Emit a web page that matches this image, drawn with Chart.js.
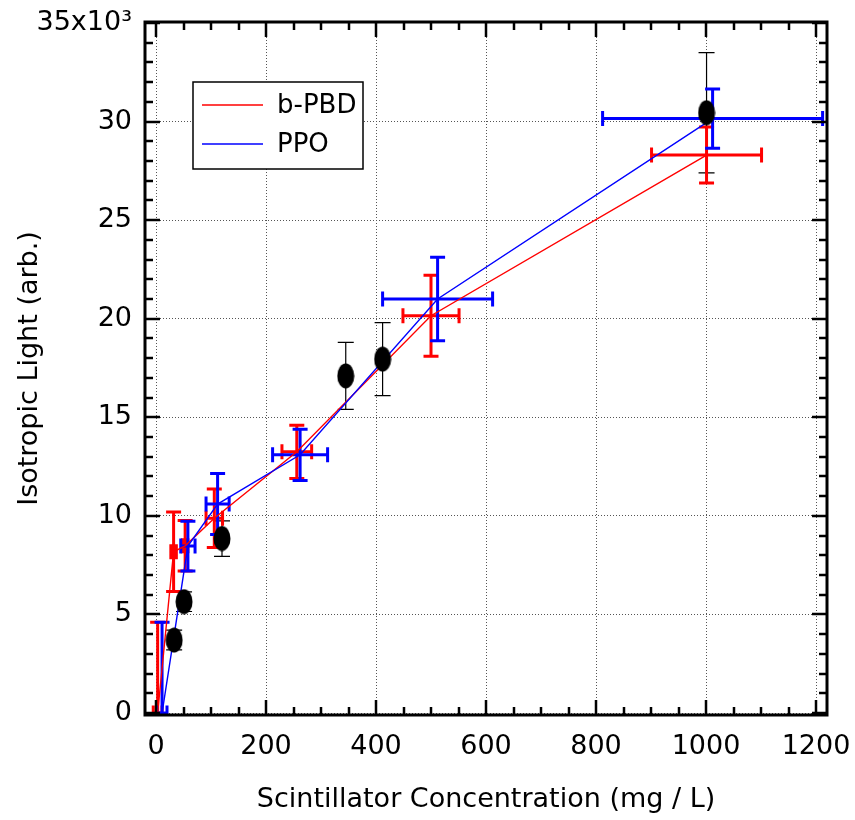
<!DOCTYPE html>
<html>
<head>
<meta charset="utf-8">
<title>Isotropic Light vs Scintillator Concentration</title>
<script src="https://cdn.jsdelivr.net/npm/chart.js@4.4.0/dist/chart.umd.min.js"></script>
<style>
  html, body { margin: 0; padding: 0; background: #fff; }
</style>
</head>
<body>
<canvas id="lightChart" width="855" height="820"></canvas>
<script>
// b-PBD (red)
const pbdConc     = [3, 32, 53, 106, 256, 500, 1001];
const pbdConcErr  = [8, 5, 5, 15, 27, 51, 100];
const pbdLight    = [0, 8180, 8480, 9880, 13250, 20150, 28300];
const pbdLightErr = [4600, 2020, 1280, 1480, 1350, 2050, 1420];

// PPO (blue)
const ppoConc     = [11, 58, 112, 262, 512, 1012];
const ppoConcErr  = [9, 13, 21, 50, 100, 200];
const ppoLight    = [0, 8470, 10600, 13100, 21000, 30150];
const ppoLightErr = [4600, 1260, 1550, 1300, 2120, 1500];

// measured points (black ellipses)
const measConc     = [33, 51, 120, 345, 412, 1001];
const measLight    = [3700, 5650, 8850, 17100, 17950, 30450];
const measLightErr = [500, 500, 900, 1700, 1850, 3050];

const xTicks = [0, 200, 400, 600, 800, 1000, 1200];
const yTicks = [0, 5000, 10000, 15000, 20000, 25000, 30000, 35000];
const xMinorStep = 50;
const yMinorStep = 1000;

const FONT = "'DejaVu Sans', 'Liberation Sans', sans-serif";

function toPoints(xs, ys) {
    return xs.map((v, i) => ({ x: v, y: ys[i] }));
}

// black ellipse marker
function ellipseMarker(w, h) {
    const c = document.createElement("canvas");
    c.width = w; c.height = h;
    const g = c.getContext("2d");
    g.fillStyle = "#000";
    g.beginPath();
    g.ellipse(w / 2, h / 2, w / 2 - 0.5, h / 2 - 0.5, 0, 0, Math.PI * 2);
    g.fill();
    return c;
}

// error bars, drawn under the datasets
const errorBars = {
    id: "errorBars",
    beforeDatasetsDraw(chart) {
        const { ctx, chartArea: a, scales: { x, y } } = chart;
        ctx.save();
        ctx.beginPath();
        ctx.rect(a.left, a.top, a.right - a.left, a.bottom - a.top);
        ctx.clip();
        chart.data.datasets.forEach(ds => {
            const eb = ds.errorBars;
            if (!eb) return;
            ctx.strokeStyle = eb.color;
            ctx.lineWidth = eb.width;
            ctx.lineCap = "butt";
            const cap = eb.cap;
            ds.data.forEach((p, i) => {
                const px = x.getPixelForValue(p.x);
                const py = y.getPixelForValue(p.y);
                ctx.beginPath();
                if (eb.yErr) {
                    const t = y.getPixelForValue(p.y + eb.yErr[i]);
                    const b = y.getPixelForValue(p.y - eb.yErr[i]);
                    ctx.moveTo(px, t); ctx.lineTo(px, b);
                    ctx.moveTo(px - cap, t); ctx.lineTo(px + cap, t);
                    ctx.moveTo(px - cap, b); ctx.lineTo(px + cap, b);
                }
                if (eb.xErr) {
                    const l = x.getPixelForValue(p.x - eb.xErr[i]);
                    const r = x.getPixelForValue(p.x + eb.xErr[i]);
                    ctx.moveTo(l, py); ctx.lineTo(r, py);
                    ctx.moveTo(l, py - cap); ctx.lineTo(l, py + cap);
                    ctx.moveTo(r, py - cap); ctx.lineTo(r, py + cap);
                }
                ctx.stroke();
            });
        });
        ctx.restore();
    }
};

// thick frame with inward ticks on all four sides
const frameTicks = {
    id: "frameTicks",
    afterDraw(chart) {
        const { ctx, chartArea: a, scales: { x, y } } = chart;
        ctx.save();
        ctx.strokeStyle = "#000";
        ctx.lineWidth = 2.5;
        for (let v = 0; v <= x.max; v += xMinorStep) {
            const px = Math.round(x.getPixelForValue(v));
            const len = v % 200 === 0 ? 15 : 8;
            ctx.beginPath();
            ctx.moveTo(px, a.bottom); ctx.lineTo(px, a.bottom - len);
            ctx.moveTo(px, a.top); ctx.lineTo(px, a.top + len);
            ctx.stroke();
        }
        for (let v = 0; v <= y.max; v += yMinorStep) {
            const py = Math.round(y.getPixelForValue(v));
            const len = v % 5000 === 0 ? 15 : 8;
            ctx.beginPath();
            ctx.moveTo(a.left, py); ctx.lineTo(a.left + len, py);
            ctx.moveTo(a.right, py); ctx.lineTo(a.right - len, py);
            ctx.stroke();
        }
        ctx.lineWidth = 3;
        ctx.strokeRect(a.left, a.top, a.right - a.left, a.bottom - a.top);
        ctx.restore();
    }
};

// boxed legend inside the plot
const boxLegend = {
    id: "boxLegend",
    afterDraw(chart) {
        const { ctx } = chart;
        const items = chart.data.datasets.filter(ds => ds.inLegend);
        const bx = 193, by = 82, bw = 170, bh = 87;
        ctx.save();
        ctx.fillStyle = "#fff";
        ctx.fillRect(bx, by, bw, bh);
        ctx.strokeStyle = "#000";
        ctx.lineWidth = 1.5;
        ctx.strokeRect(bx, by, bw, bh);
        ctx.font = "26px " + FONT;
        ctx.textBaseline = "middle";
        items.forEach((ds, i) => {
            const ly = by + 23 + i * 39;
            ctx.strokeStyle = ds.borderColor;
            ctx.lineWidth = 1.3;
            ctx.beginPath();
            ctx.moveTo(bx + 9, ly); ctx.lineTo(bx + 70, ly);
            ctx.stroke();
            ctx.fillStyle = "#000";
            ctx.fillText(ds.label, bx + 84, ly + 1);
        });
        ctx.restore();
    }
};

Chart.defaults.font.family = FONT;
Chart.defaults.font.size = 27;
Chart.defaults.color = "#000";

new Chart(document.getElementById("lightChart"), {
    type: "scatter",
    data: {
        datasets: [
            {
                label: "measured",
                data: toPoints(measConc, measLight),
                pointStyle: ellipseMarker(18, 26),
                showLine: false,
                order: 0,
                errorBars: { yErr: measLightErr, color: "#000", width: 1.2, cap: 8 }
            },
            {
                label: "b-PBD",
                inLegend: true,
                data: toPoints(pbdConc, pbdLight),
                showLine: true,
                borderColor: "#ff0000",
                borderWidth: 1.4,
                pointRadius: 0,
                order: 2,
                errorBars: { yErr: pbdLightErr, xErr: pbdConcErr, color: "#ff0000", width: 3, cap: 7.5 }
            },
            {
                label: "PPO",
                inLegend: true,
                data: toPoints(ppoConc, ppoLight),
                showLine: true,
                borderColor: "#0000ff",
                borderWidth: 1.4,
                pointRadius: 0,
                order: 1,
                errorBars: { yErr: ppoLightErr, xErr: ppoConcErr, color: "#0000ff", width: 3, cap: 7.5 }
            }
        ]
    },
    options: {
        responsive: false,
        animation: false,
        events: [],
        layout: { padding: { top: 22, right: 28, left: 0, bottom: 0 } },
        plugins: {
            legend: { display: false },
            tooltip: { enabled: false }
        },
        scales: {
            x: {
                type: "linear",
                min: -20,
                max: 1220,
                afterBuildTicks: s => { s.ticks = xTicks.map(v => ({ value: v })); },
                afterFit: s => { s.height = 105; s.paddingLeft = 0; s.paddingRight = 0; },
                ticks: { padding: 16, maxRotation: 0, callback: v => String(v) },
                grid: { color: "#555", lineWidth: 1, drawTicks: false },
                border: { display: false, dash: [1, 2] },
                title: {
                    display: true,
                    text: "Scintillator Concentration (mg / L)",
                    padding: { top: 0, bottom: 4 }
                }
            },
            y: {
                type: "linear",
                min: -100,
                max: 35050,
                afterBuildTicks: s => { s.ticks = yTicks.map(v => ({ value: v })); },
                afterFit: s => { s.width = 145; s.paddingTop = 0; s.paddingBottom = 0; },
                ticks: {
                    padding: 13,
                    callback: v => v === 35000 ? "35x10\u00B3" : String(v / 1000)
                },
                grid: { color: "#555", lineWidth: 1, drawTicks: false },
                border: { display: false, dash: [1, 2] },
                title: {
                    display: true,
                    text: "Isotropic Light (arb.)",
                    padding: { top: 14, bottom: 0 }
                }
            }
        }
    },
    plugins: [errorBars, frameTicks, boxLegend]
});
</script>
</body>
</html>
